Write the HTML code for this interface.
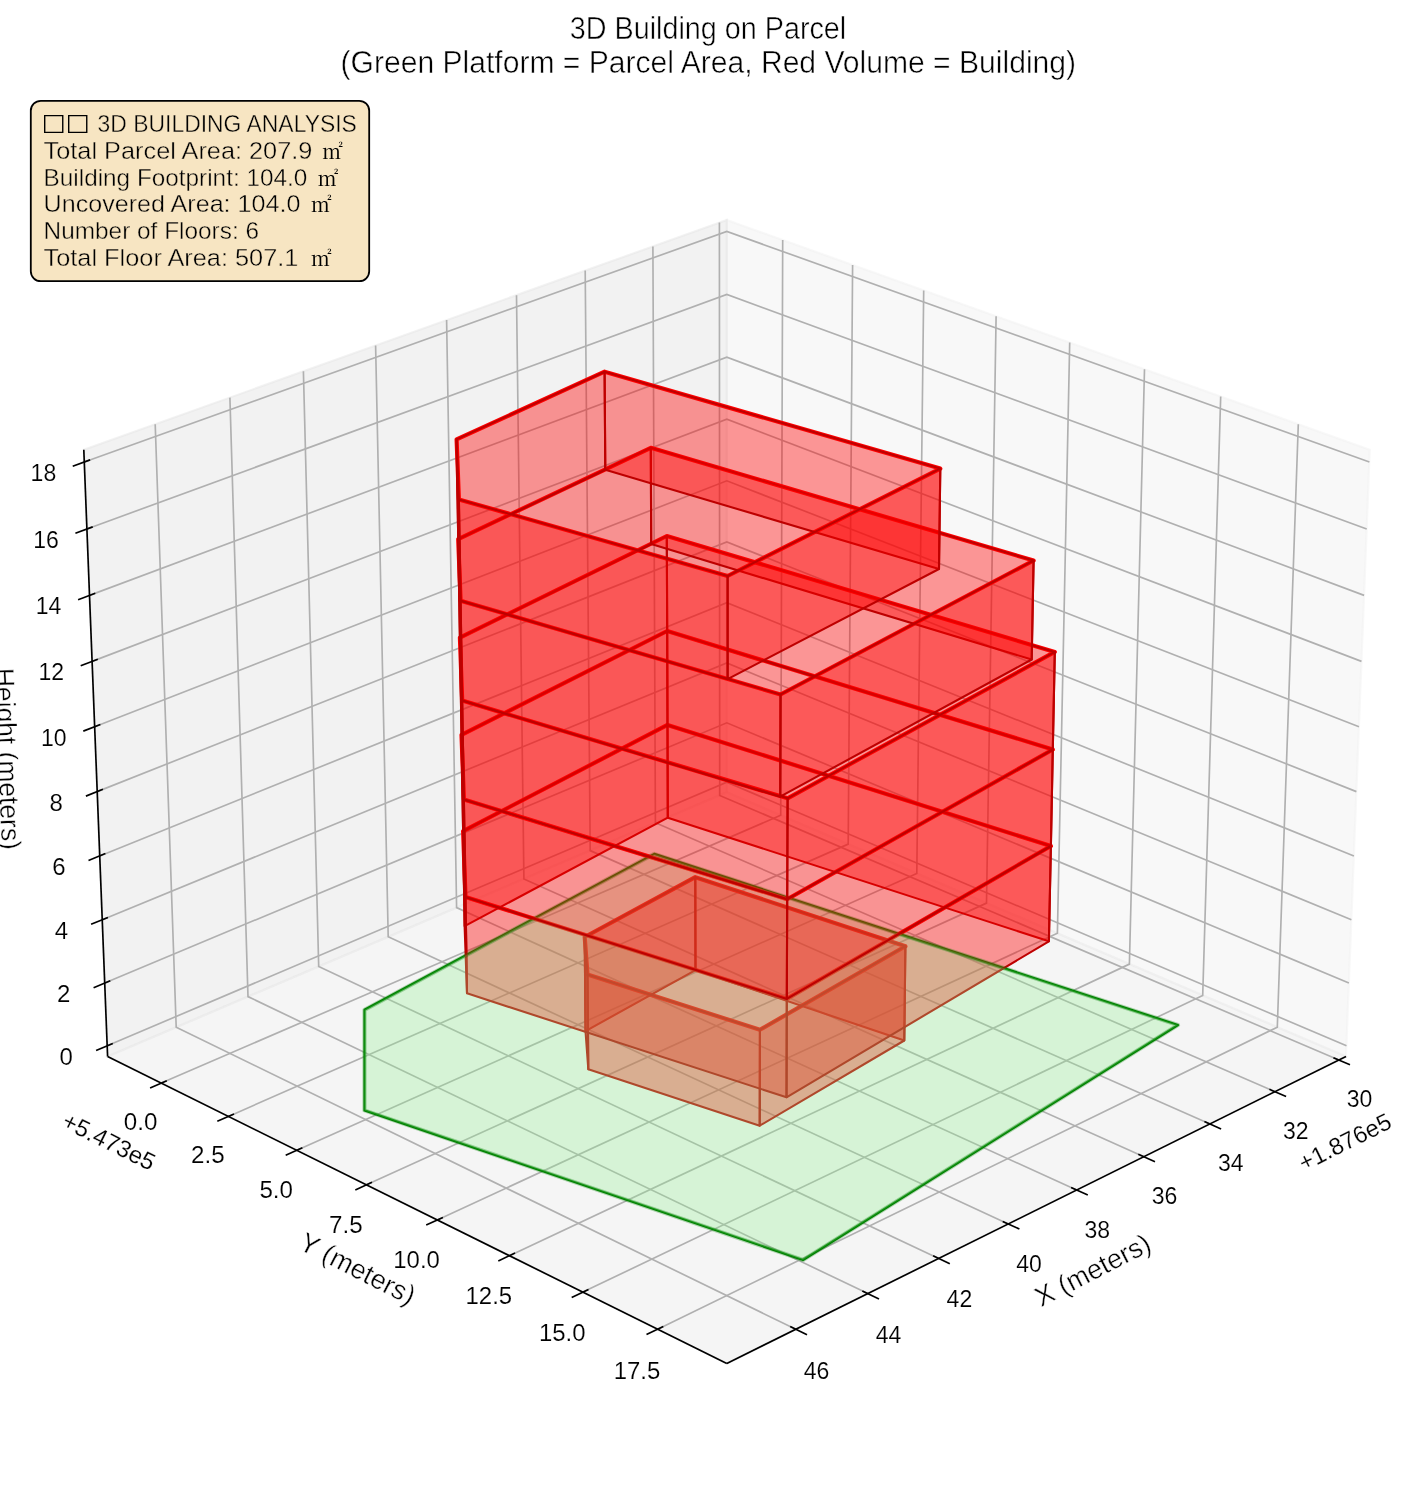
<!DOCTYPE html>
<html><head><meta charset="utf-8"><title>3D Building on Parcel</title>
<style>html,body{margin:0;padding:0;background:#fff}svg{display:block}text{fill:#000;stroke:#fff;stroke-width:.4px}.tt{stroke-width:.5px}.tk{stroke-width:.15px}.bx{stroke:#f7e5c2}.nb{stroke:none}</style></head>
<body><svg width="1416" height="1486" viewBox="0 0 1416 1486" font-family="'Liberation Sans', 'NanumGothic', sans-serif">
<rect width="1416" height="1486" fill="#fff"/>
<g stroke-linejoin="miter" stroke-width="2.08" fill-opacity="0.5" stroke-opacity="0.5">
<polygon points="726.8,792.3 726.8,220 1369.8,449.8 1346,1056.5" fill="#f2f2f2" stroke="#f2f2f2"/>
<polygon points="726.8,792.3 726.8,220 83.8,449.8 107.6,1056.5" fill="#e6e6e6" stroke="#e6e6e6"/>
<polygon points="726.8,792.3 107.6,1056.5 726.8,1363.5 1346,1056.5" fill="#ececec" stroke="#ececec"/>
</g>
<g fill="none" stroke="#b0b0b0" stroke-width="1.67" stroke-linejoin="miter">
<polyline points="1338.9,1060 719.7,795.4 719.4,222.6"/>
<polyline points="1275,1091.7 655.4,822.8 652.9,246.4"/>
<polyline points="1210,1123.9 590.2,850.6 585.2,270.6"/>
<polyline points="1143.9,1156.7 523.9,878.9 516.5,295.2"/>
<polyline points="1076.6,1190 456.6,907.6 446.6,320.1"/>
<polyline points="1008.3,1224 388.2,936.8 375.6,345.5"/>
<polyline points="938.7,1258.4 318.7,966.5 303.4,371.3"/>
<polyline points="867.9,1293.6 248,996.6 229.9,397.6"/>
<polyline points="795.8,1329.3 176.2,1027.2 155.2,424.3"/>
<polyline points="161.3,1083.1 780.7,815.3 782.7,239.9"/>
<polyline points="228.5,1116.4 848.2,844.1 852.6,264.9"/>
<polyline points="296.9,1150.3 916.8,873.4 923.7,290.4"/>
<polyline points="366.5,1184.8 986.5,903.1 996.1,316.2"/>
<polyline points="437.3,1219.9 1057.4,933.3 1069.7,342.5"/>
<polyline points="509.5,1255.7 1129.4,964.1 1144.5,369.3"/>
<polyline points="582.9,1292.1 1202.7,995.4 1220.7,396.5"/>
<polyline points="657.7,1329.2 1277.3,1027.2 1298.3,424.2"/>
<polyline points="107.2,1045.8 726.8,782.2 1346.5,1045.8"/>
<polyline points="104.7,983 726.8,722.8 1348.9,983"/>
<polyline points="102.3,919.7 726.8,663 1351.4,919.7"/>
<polyline points="99.8,855.9 726.8,602.7 1353.9,855.9"/>
<polyline points="97.2,791.6 726.8,542 1356.4,791.6"/>
<polyline points="94.7,726.7 726.8,480.8 1359,726.7"/>
<polyline points="92.1,661.4 726.8,419.2 1361.5,661.4"/>
<polyline points="89.5,595.4 726.8,357.1 1364.1,595.4"/>
<polyline points="86.9,529 726.8,294.5 1366.7,529"/>
<polyline points="84.3,462 726.8,231.4 1369.4,462"/>
</g>
<g fill="none" stroke="#000" stroke-width="1.67" stroke-linecap="butt">
<polyline points="1346,1056.5 726.8,1363.5"/>
<polyline points="107.6,1056.5 726.8,1363.5"/>
<polyline points="107.6,1056.5 83.8,449.8"/>
<polyline points="1350,1064.8 1333.4,1057.7"/>
<polyline points="1286.1,1096.6 1269.4,1089.3"/>
<polyline points="1221.1,1128.9 1204.4,1121.5"/>
<polyline points="1155,1161.7 1138.3,1154.2"/>
<polyline points="1087.8,1195.1 1071.1,1187.5"/>
<polyline points="1019.4,1229.1 1002.7,1221.4"/>
<polyline points="949.8,1263.7 933.1,1255.8"/>
<polyline points="879,1298.9 862.3,1290.9"/>
<polyline points="807,1334.7 790.2,1326.6"/>
<polyline points="150.1,1087.9 166.8,1080.7"/>
<polyline points="217.3,1121.3 234,1114"/>
<polyline points="285.7,1155.3 302.4,1147.8"/>
<polyline points="355.3,1189.9 372,1182.3"/>
<polyline points="426.2,1225.1 442.9,1217.4"/>
<polyline points="498.3,1260.9 515,1253.1"/>
<polyline points="571.7,1297.5 588.5,1289.4"/>
<polyline points="646.5,1334.6 663.3,1326.5"/>
<polyline points="96.1,1050.5 112.8,1043.5"/>
<polyline points="93.6,987.7 110.3,980.7"/>
<polyline points="91.1,924.3 107.9,917.4"/>
<polyline points="88.5,860.4 105.4,853.6"/>
<polyline points="85.9,796.1 102.9,789.3"/>
<polyline points="83.3,731.1 100.4,724.5"/>
<polyline points="80.7,665.7 97.8,659.2"/>
<polyline points="78.1,599.7 95.3,593.3"/>
<polyline points="75.4,533.2 92.7,526.9"/>
<polyline points="72.7,466.2 90.1,459.9"/>
</g>
<polygon points="364.5,1009.8 364.5,1110.4 803,1260 1178,1025 654.3,853.9" fill="none" stroke="#008000" stroke-width="2.2" stroke-linejoin="round"/>
<g fill="none" stroke="#ff0000" stroke-width="4.17" stroke-linejoin="round" stroke-linecap="round">
<polygon points="584.7,937 587.5,974.4 759.9,1029.8 905.4,946.2 695.3,877.2"/>
<polygon points="463.1,831.1 465.5,896.9 786.8,998.9 1050.9,846 667.5,724.9"/>
<polygon points="461.5,734.9 463.9,799.4 787.2,899.2 1052.8,749.5 667.2,631"/>
<polygon points="459.9,637.6 462.2,700.6 787.6,798.3 1054.8,651.9 666.8,536"/>
<polygon points="458.2,539.1 460.6,600.7 780.5,694.5 1033.6,560.5 650.8,447.8"/>
<polygon points="456.6,439.4 458.9,499.4 727.6,576 940.3,468.6 604.6,371.7"/>
</g>
<g fill="#ff0000" fill-opacity="0.4" stroke="#be0000" stroke-width="2.08" stroke-linejoin="round">
<polygon points="695.5,970.1 585.5,1031.1 584.7,937 695.3,877.2"/>
<polygon points="904.3,1040.5 695.5,970.1 695.3,877.2 905.4,946.2"/>
<polygon points="585.5,1031.1 588.3,1069.2 587.5,974.4 584.7,937"/>
<polygon points="759.7,1125.7 904.3,1040.5 905.4,946.2 759.9,1029.8"/>
<polygon points="588.3,1069.2 759.7,1125.7 759.9,1029.8 587.5,974.4"/>
</g>
<g fill="#ff0000" fill-opacity="0.4" stroke="#be0000" stroke-width="2.08" stroke-linejoin="round">
<polygon points="667.8,817.7 464.6,926.1 463.1,831.1 667.5,724.9"/>
<polygon points="1048.9,941.3 667.8,817.7 667.5,724.9 1050.9,846"/>
<polygon points="464.6,926.1 467,993.3 465.5,896.9 463.1,831.1"/>
<polygon points="786.5,1097.3 1048.9,941.3 1050.9,846 786.8,998.9"/>
<polygon points="467,993.3 786.5,1097.3 786.8,998.9 465.5,896.9"/>
</g>
<polygon points="364.5,1009.8 364.5,1110.4 803,1260 1178,1025 654.3,853.9" fill="#90ee90" fill-opacity="0.3" stroke="#008000" stroke-opacity="0.3" stroke-width="4.17" stroke-linejoin="round"/>
<g fill="#ff0000" fill-opacity="0.4" stroke="#be0000" stroke-width="2.08" stroke-linejoin="round">
<polygon points="667.5,724.9 463.1,831.1 461.5,734.9 667.2,631"/>
<polygon points="1050.9,846 667.5,724.9 667.2,631 1052.8,749.5"/>
<polygon points="463.1,831.1 465.5,896.9 463.9,799.4 461.5,734.9"/>
<polygon points="786.8,998.9 1050.9,846 1052.8,749.5 787.2,899.2"/>
<polygon points="465.5,896.9 786.8,998.9 787.2,899.2 463.9,799.4"/>
</g>
<g fill="#ff0000" fill-opacity="0.4" stroke="#be0000" stroke-width="2.08" stroke-linejoin="round">
<polygon points="667.2,631 461.5,734.9 459.9,637.6 666.8,536"/>
<polygon points="1052.8,749.5 667.2,631 666.8,536 1054.8,651.9"/>
<polygon points="461.5,734.9 463.9,799.4 462.2,700.6 459.9,637.6"/>
<polygon points="787.2,899.2 1052.8,749.5 1054.8,651.9 787.6,798.3"/>
<polygon points="463.9,799.4 787.2,899.2 787.6,798.3 462.2,700.6"/>
</g>
<g fill="#ff0000" fill-opacity="0.4" stroke="#be0000" stroke-width="2.08" stroke-linejoin="round">
<polygon points="651.2,544.1 459.9,637.6 458.2,539.1 650.8,447.8"/>
<polygon points="1031.7,659.5 651.2,544.1 650.8,447.8 1033.6,560.5"/>
<polygon points="459.9,637.6 462.2,700.6 460.6,600.7 458.2,539.1"/>
<polygon points="780.2,796.7 1031.7,659.5 1033.6,560.5 780.5,694.5"/>
<polygon points="462.2,700.6 780.2,796.7 780.5,694.5 460.6,600.7"/>
</g>
<g fill="#ff0000" fill-opacity="0.4" stroke="#be0000" stroke-width="2.08" stroke-linejoin="round">
<polygon points="605.3,469.7 458.2,539.1 456.6,439.4 604.6,371.7"/>
<polygon points="939,569 605.3,469.7 604.6,371.7 940.3,468.6"/>
<polygon points="458.2,539.1 460.6,600.7 458.9,499.4 456.6,439.4"/>
<polygon points="727.6,679.1 939,569 940.3,468.6 727.6,576"/>
<polygon points="460.6,600.7 727.6,679.1 727.6,576 458.9,499.4"/>
</g>
<rect x="30.8" y="100.8" width="338.4" height="180.4" rx="10" ry="10" fill="#f7e5c2" stroke="#000" stroke-width="1.8"/>
<text x="708" y="38.8" font-size="30.8" text-anchor="middle" textLength="276.4" lengthAdjust="spacingAndGlyphs" class="tt">3D Building on Parcel</text>
<text x="708.3" y="73" font-size="30.8" text-anchor="middle" textLength="735.5" lengthAdjust="spacingAndGlyphs" class="tt">(Green Platform = Parcel Area, Red Volume = Building)</text>
<text x="66.3" y="1064.7" font-size="24" text-anchor="middle" class="tk">0</text>
<text x="63.8" y="1001.9" font-size="24" text-anchor="middle" class="tk">2</text>
<text x="61.4" y="938.6" font-size="24" text-anchor="middle" class="tk">4</text>
<text x="58.9" y="874.8" font-size="24" text-anchor="middle" class="tk">6</text>
<text x="56.3" y="810.5" font-size="24" text-anchor="middle" class="tk">8</text>
<text x="53.8" y="745.6" font-size="24" text-anchor="middle" textLength="25.6" lengthAdjust="spacingAndGlyphs" class="tk">10</text>
<text x="51.2" y="680.3" font-size="24" text-anchor="middle" textLength="25.6" lengthAdjust="spacingAndGlyphs" class="tk">12</text>
<text x="48.6" y="614.3" font-size="24" text-anchor="middle" textLength="25.6" lengthAdjust="spacingAndGlyphs" class="tk">14</text>
<text x="46" y="547.9" font-size="24" text-anchor="middle" textLength="25.6" lengthAdjust="spacingAndGlyphs" class="tk">16</text>
<text x="43.4" y="480.9" font-size="24" text-anchor="middle" textLength="25.6" lengthAdjust="spacingAndGlyphs" class="tk">18</text>
<text x="140.6" y="1129.7" font-size="24" text-anchor="middle" textLength="33.6" lengthAdjust="spacingAndGlyphs" class="tk">0.0</text>
<text x="207.8" y="1163.4" font-size="24" text-anchor="middle" textLength="33.6" lengthAdjust="spacingAndGlyphs" class="tk">2.5</text>
<text x="276.2" y="1197.8" font-size="24" text-anchor="middle" textLength="33.6" lengthAdjust="spacingAndGlyphs" class="tk">5.0</text>
<text x="345.8" y="1232.7" font-size="24" text-anchor="middle" textLength="33.6" lengthAdjust="spacingAndGlyphs" class="tk">7.5</text>
<text x="416.6" y="1268.3" font-size="24" text-anchor="middle" textLength="46.6" lengthAdjust="spacingAndGlyphs" class="tk">10.0</text>
<text x="488.8" y="1304.4" font-size="24" text-anchor="middle" textLength="46.6" lengthAdjust="spacingAndGlyphs" class="tk">12.5</text>
<text x="562.2" y="1341.3" font-size="24" text-anchor="middle" textLength="46.6" lengthAdjust="spacingAndGlyphs" class="tk">15.0</text>
<text x="637" y="1378.8" font-size="24" text-anchor="middle" textLength="46.6" lengthAdjust="spacingAndGlyphs" class="tk">17.5</text>
<text x="1359.6" y="1106.6" font-size="24" text-anchor="middle" textLength="25.6" lengthAdjust="spacingAndGlyphs" class="tk">30</text>
<text x="1295.7" y="1138.7" font-size="24" text-anchor="middle" textLength="25.6" lengthAdjust="spacingAndGlyphs" class="tk">32</text>
<text x="1230.7" y="1171.3" font-size="24" text-anchor="middle" textLength="25.6" lengthAdjust="spacingAndGlyphs" class="tk">34</text>
<text x="1164.6" y="1204.4" font-size="24" text-anchor="middle" textLength="25.6" lengthAdjust="spacingAndGlyphs" class="tk">36</text>
<text x="1097.3" y="1238.1" font-size="24" text-anchor="middle" textLength="25.6" lengthAdjust="spacingAndGlyphs" class="tk">38</text>
<text x="1029" y="1272.4" font-size="24" text-anchor="middle" textLength="25.6" lengthAdjust="spacingAndGlyphs" class="tk">40</text>
<text x="959.4" y="1307.3" font-size="24" text-anchor="middle" textLength="25.6" lengthAdjust="spacingAndGlyphs" class="tk">42</text>
<text x="888.6" y="1342.8" font-size="24" text-anchor="middle" textLength="25.6" lengthAdjust="spacingAndGlyphs" class="tk">44</text>
<text x="816.5" y="1378.9" font-size="24" text-anchor="middle" textLength="25.6" lengthAdjust="spacingAndGlyphs" class="tk">46</text>
<text x="105.4" y="1148.8" font-size="24" text-anchor="middle" transform="rotate(26.4 105.4 1148.8)" textLength="100" lengthAdjust="spacingAndGlyphs" class="tk">+5.473e5</text>
<text x="1348.5" y="1149.4" font-size="24" text-anchor="middle" transform="rotate(-26.4 1348.5 1149.4)" textLength="100" lengthAdjust="spacingAndGlyphs" class="tk">+1.876e5</text>
<text x="353.5" y="1277" font-size="27.5" text-anchor="middle" transform="rotate(27 353.5 1277)" textLength="125.5" lengthAdjust="spacingAndGlyphs">Y (meters)</text>
<text x="1097" y="1278.4" font-size="27.5" text-anchor="middle" transform="rotate(-27.2 1097 1278.4)" textLength="126" lengthAdjust="spacingAndGlyphs">X (meters)</text>
<text x="-1.7" y="759.2" font-size="27.5" text-anchor="middle" transform="rotate(87.8 -1.7 759.2)" textLength="182" lengthAdjust="spacingAndGlyphs">Height (meters)</text>
<text x="41.7" y="130" font-size="23.5" text-anchor="start" textLength="48.2" lengthAdjust="spacingAndGlyphs" class="nb" font-family="'DejaVu Sans', sans-serif">□□</text>
<text x="97.6" y="132" font-size="24.3" text-anchor="start" textLength="259.3" lengthAdjust="spacingAndGlyphs" class="bx">3D BUILDING ANALYSIS</text>
<text x="43.6" y="158.7" font-size="24.3" text-anchor="start" textLength="268.8" lengthAdjust="spacingAndGlyphs" class="bx">Total Parcel Area: 207.9</text>
<text x="322.3" y="158.7" font-size="20.6" text-anchor="start" class="nb" font-family="'Liberation Serif', 'Noto Serif CJK KR', serif">㎡</text>
<text x="43.6" y="185.6" font-size="24.3" text-anchor="start" textLength="263.7" lengthAdjust="spacingAndGlyphs" class="bx">Building Footprint: 104.0</text>
<text x="317.8" y="185.6" font-size="20.6" text-anchor="start" class="nb" font-family="'Liberation Serif', 'Noto Serif CJK KR', serif">㎡</text>
<text x="43.6" y="212.4" font-size="24.3" text-anchor="start" textLength="256.8" lengthAdjust="spacingAndGlyphs" class="bx">Uncovered Area: 104.0</text>
<text x="310.9" y="212.4" font-size="20.6" text-anchor="start" class="nb" font-family="'Liberation Serif', 'Noto Serif CJK KR', serif">㎡</text>
<text x="43.6" y="239.3" font-size="24.3" text-anchor="start" textLength="215.4" lengthAdjust="spacingAndGlyphs" class="bx">Number of Floors: 6</text>
<text x="43.6" y="266.2" font-size="24.3" text-anchor="start" textLength="254.8" lengthAdjust="spacingAndGlyphs" class="bx">Total Floor Area: 507.1</text>
<text x="310.9" y="266.2" font-size="20.6" text-anchor="start" class="nb" font-family="'Liberation Serif', 'Noto Serif CJK KR', serif">㎡</text>
</svg></body></html>
